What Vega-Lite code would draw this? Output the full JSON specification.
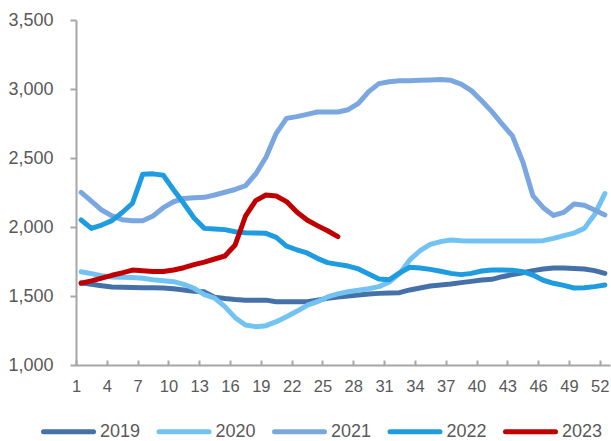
{
  "$schema": "https://vega.github.io/schema/vega-lite/v6.json",
  "autosize": "none",
  "width": 534,
  "height": 345,
  "padding": {"left": 76, "top": 20, "right": 1, "bottom": 76},
  "background": "white",
  "config": {
    "view": {"stroke": null},
    "font": "Liberation Sans",
    "axis": {
      "grid": false,
      "domainColor": "#A6A6A6",
      "domainWidth": 2,
      "tickColor": "#A6A6A6",
      "tickWidth": 2,
      "labelColor": "#595959",
      "labelFont": "Liberation Sans",
      "title": null
    }
  },
  "datasets": {
    "rows": [
      {"year":"2019","week":1,"value":1595},{"year":"2019","week":2,"value":1585},{"year":"2019","week":3,"value":1575},{"year":"2019","week":4,"value":1565},{"year":"2019","week":5,"value":1563},{"year":"2019","week":6,"value":1562},{"year":"2019","week":7,"value":1560},{"year":"2019","week":8,"value":1560},{"year":"2019","week":9,"value":1558},{"year":"2019","week":10,"value":1552},
      {"year":"2019","week":11,"value":1543},{"year":"2019","week":12,"value":1535},{"year":"2019","week":13,"value":1530},{"year":"2019","week":14,"value":1492},{"year":"2019","week":15,"value":1482},{"year":"2019","week":16,"value":1475},{"year":"2019","week":17,"value":1470},{"year":"2019","week":18,"value":1470},{"year":"2019","week":19,"value":1470},{"year":"2019","week":20,"value":1458},
      {"year":"2019","week":21,"value":1458},{"year":"2019","week":22,"value":1458},{"year":"2019","week":23,"value":1458},{"year":"2019","week":24,"value":1470},{"year":"2019","week":25,"value":1483},{"year":"2019","week":26,"value":1493},{"year":"2019","week":27,"value":1500},{"year":"2019","week":28,"value":1507},{"year":"2019","week":29,"value":1515},{"year":"2019","week":30,"value":1519},
      {"year":"2019","week":31,"value":1522},{"year":"2019","week":32,"value":1524},{"year":"2019","week":33,"value":1544},{"year":"2019","week":34,"value":1558},{"year":"2019","week":35,"value":1573},{"year":"2019","week":36,"value":1580},{"year":"2019","week":37,"value":1587},{"year":"2019","week":38,"value":1597},{"year":"2019","week":39,"value":1606},{"year":"2019","week":40,"value":1616},
      {"year":"2019","week":41,"value":1621},{"year":"2019","week":42,"value":1640},{"year":"2019","week":43,"value":1655},{"year":"2019","week":44,"value":1669},{"year":"2019","week":45,"value":1684},{"year":"2019","week":46,"value":1696},{"year":"2019","week":47,"value":1703},{"year":"2019","week":48,"value":1703},{"year":"2019","week":49,"value":1700},{"year":"2019","week":50,"value":1696},
      {"year":"2019","week":51,"value":1684},{"year":"2019","week":52,"value":1664},

      {"year":"2020","week":1,"value":1676},{"year":"2020","week":2,"value":1662},{"year":"2020","week":3,"value":1647},{"year":"2020","week":4,"value":1638},{"year":"2020","week":5,"value":1635},{"year":"2020","week":6,"value":1634},{"year":"2020","week":7,"value":1628},{"year":"2020","week":8,"value":1618},{"year":"2020","week":9,"value":1611},{"year":"2020","week":10,"value":1604},
      {"year":"2020","week":11,"value":1584},{"year":"2020","week":12,"value":1556},{"year":"2020","week":13,"value":1510},{"year":"2020","week":14,"value":1485},{"year":"2020","week":15,"value":1423},{"year":"2020","week":16,"value":1343},{"year":"2020","week":17,"value":1290},{"year":"2020","week":18,"value":1278},{"year":"2020","week":19,"value":1285},{"year":"2020","week":20,"value":1314},
      {"year":"2020","week":21,"value":1350},{"year":"2020","week":22,"value":1389},{"year":"2020","week":23,"value":1432},{"year":"2020","week":24,"value":1459},{"year":"2020","week":25,"value":1493},{"year":"2020","week":26,"value":1515},{"year":"2020","week":27,"value":1531},{"year":"2020","week":28,"value":1541},{"year":"2020","week":29,"value":1553},{"year":"2020","week":30,"value":1568},
      {"year":"2020","week":31,"value":1601},{"year":"2020","week":32,"value":1662},{"year":"2020","week":33,"value":1761},{"year":"2020","week":34,"value":1828},{"year":"2020","week":35,"value":1874},{"year":"2020","week":36,"value":1894},{"year":"2020","week":37,"value":1906},{"year":"2020","week":38,"value":1901},{"year":"2020","week":39,"value":1899},{"year":"2020","week":40,"value":1899},
      {"year":"2020","week":41,"value":1899},{"year":"2020","week":42,"value":1899},{"year":"2020","week":43,"value":1899},{"year":"2020","week":44,"value":1899},{"year":"2020","week":45,"value":1899},{"year":"2020","week":46,"value":1901},{"year":"2020","week":47,"value":1918},{"year":"2020","week":48,"value":1937},{"year":"2020","week":49,"value":1956},{"year":"2020","week":50,"value":1990},
      {"year":"2020","week":51,"value":2090},{"year":"2020","week":52,"value":2242},

      {"year":"2021","week":1,"value":2251},{"year":"2021","week":2,"value":2188},{"year":"2021","week":3,"value":2123},{"year":"2021","week":4,"value":2080},{"year":"2021","week":5,"value":2053},{"year":"2021","week":6,"value":2046},{"year":"2021","week":7,"value":2046},{"year":"2021","week":8,"value":2080},{"year":"2021","week":9,"value":2140},{"year":"2021","week":10,"value":2183},
      {"year":"2021","week":11,"value":2207},{"year":"2021","week":12,"value":2212},{"year":"2021","week":13,"value":2215},{"year":"2021","week":14,"value":2232},{"year":"2021","week":15,"value":2252},{"year":"2021","week":16,"value":2272},{"year":"2021","week":17,"value":2299},{"year":"2021","week":18,"value":2384},{"year":"2021","week":19,"value":2505},{"year":"2021","week":20,"value":2679},
      {"year":"2021","week":21,"value":2787},{"year":"2021","week":22,"value":2800},{"year":"2021","week":23,"value":2816},{"year":"2021","week":24,"value":2833},{"year":"2021","week":25,"value":2833},{"year":"2021","week":26,"value":2833},{"year":"2021","week":27,"value":2850},{"year":"2021","week":28,"value":2896},{"year":"2021","week":29,"value":2981},{"year":"2021","week":30,"value":3039},
      {"year":"2021","week":31,"value":3053},{"year":"2021","week":32,"value":3060},{"year":"2021","week":33,"value":3060},{"year":"2021","week":34,"value":3063},{"year":"2021","week":35,"value":3065},{"year":"2021","week":36,"value":3068},{"year":"2021","week":37,"value":3063},{"year":"2021","week":38,"value":3036},{"year":"2021","week":39,"value":2988},{"year":"2021","week":40,"value":2915},
      {"year":"2021","week":41,"value":2836},{"year":"2021","week":42,"value":2746},{"year":"2021","week":43,"value":2660},{"year":"2021","week":44,"value":2474},{"year":"2021","week":45,"value":2225},{"year":"2021","week":46,"value":2140},{"year":"2021","week":47,"value":2084},{"year":"2021","week":48,"value":2106},{"year":"2021","week":49,"value":2167},{"year":"2021","week":50,"value":2157},
      {"year":"2021","week":51,"value":2123},{"year":"2021","week":52,"value":2087},

      {"year":"2022","week":1,"value":2051},{"year":"2022","week":2,"value":1990},{"year":"2022","week":3,"value":2014},{"year":"2022","week":4,"value":2046},{"year":"2022","week":5,"value":2105},{"year":"2022","week":6,"value":2172},{"year":"2022","week":7,"value":2383},{"year":"2022","week":8,"value":2385},{"year":"2022","week":9,"value":2375},{"year":"2022","week":10,"value":2270},
      {"year":"2022","week":11,"value":2170},{"year":"2022","week":12,"value":2065},{"year":"2022","week":13,"value":1990},{"year":"2022","week":14,"value":1985},{"year":"2022","week":15,"value":1981},{"year":"2022","week":16,"value":1966},{"year":"2022","week":17,"value":1959},{"year":"2022","week":18,"value":1956},{"year":"2022","week":19,"value":1954},{"year":"2022","week":20,"value":1925},
      {"year":"2022","week":21,"value":1862},{"year":"2022","week":22,"value":1835},{"year":"2022","week":23,"value":1812},{"year":"2022","week":24,"value":1773},{"year":"2022","week":25,"value":1742},{"year":"2022","week":26,"value":1729},{"year":"2022","week":27,"value":1717},{"year":"2022","week":28,"value":1696},{"year":"2022","week":29,"value":1659},{"year":"2022","week":30,"value":1623},
      {"year":"2022","week":31,"value":1618},{"year":"2022","week":32,"value":1667},{"year":"2022","week":33,"value":1708},{"year":"2022","week":34,"value":1703},{"year":"2022","week":35,"value":1693},{"year":"2022","week":36,"value":1679},{"year":"2022","week":37,"value":1664},{"year":"2022","week":38,"value":1655},{"year":"2022","week":39,"value":1664},{"year":"2022","week":40,"value":1681},
      {"year":"2022","week":41,"value":1688},{"year":"2022","week":42,"value":1688},{"year":"2022","week":43,"value":1686},{"year":"2022","week":44,"value":1676},{"year":"2022","week":45,"value":1652},{"year":"2022","week":46,"value":1614},{"year":"2022","week":47,"value":1592},{"year":"2022","week":48,"value":1577},{"year":"2022","week":49,"value":1558},{"year":"2022","week":50,"value":1560},
      {"year":"2022","week":51,"value":1568},{"year":"2022","week":52,"value":1580},

      {"year":"2023","week":1,"value":1592},{"year":"2023","week":2,"value":1610},{"year":"2023","week":3,"value":1630},{"year":"2023","week":4,"value":1650},{"year":"2023","week":5,"value":1668},{"year":"2023","week":6,"value":1688},{"year":"2023","week":7,"value":1683},{"year":"2023","week":8,"value":1678},{"year":"2023","week":9,"value":1678},{"year":"2023","week":10,"value":1688},
      {"year":"2023","week":11,"value":1705},{"year":"2023","week":12,"value":1727},{"year":"2023","week":13,"value":1746},{"year":"2023","week":14,"value":1768},{"year":"2023","week":15,"value":1790},{"year":"2023","week":16,"value":1870},{"year":"2023","week":17,"value":2078},{"year":"2023","week":18,"value":2191},{"year":"2023","week":19,"value":2232},{"year":"2023","week":20,"value":2225},
      {"year":"2023","week":21,"value":2184},{"year":"2023","week":22,"value":2109},{"year":"2023","week":23,"value":2051},{"year":"2023","week":24,"value":2010},{"year":"2023","week":25,"value":1973},{"year":"2023","week":26,"value":1930}
    ]
  },
  "data": {"name": "rows"},
  "mark": {"type": "line", "strokeWidth": 5, "strokeCap": "round", "strokeJoin": "round"},
  "encoding": {
    "x": {
      "field": "week",
      "type": "quantitative",
      "scale": {"domain": [0.5, 52.5], "nice": false, "zero": false},
      "axis": {
        "values": [0.5, 3.5, 6.5, 9.5, 12.5, 15.5, 18.5, 21.5, 24.5, 27.5, 30.5, 33.5, 36.5, 39.5, 42.5, 45.5, 48.5, 51.5],
        "labelExpr": "format(datum.value + 0.5, 'd')",
        "tickSize": -5,
        "labelPadding": 18,
        "labelFontSize": 16.5,
        "labelFlush": false,
        "labelOverlap": false
      }
    },
    "y": {
      "field": "value",
      "type": "quantitative",
      "scale": {"domain": [1000, 3500], "nice": false, "zero": false},
      "axis": {
        "values": [1000, 1500, 2000, 2500, 3000, 3500],
        "labelExpr": "format(datum.value, ',d')",
        "tickSize": 6,
        "labelPadding": 17,
        "labelFontSize": 18
      }
    },
    "color": {
      "field": "year",
      "type": "nominal",
      "scale": {
        "domain": ["2019", "2020", "2021", "2022", "2023"],
        "range": ["#4571A8", "#72C2F2", "#7BA7E0", "#1F9BDF", "#C00000"]
      },
      "legend": {
        "title": null,
        "orient": "none",
        "legendX": -35,
        "legendY": 384,
        "direction": "horizontal",
        "columns": 5,
        "symbolType": "stroke",
        "symbolSize": 2500,
        "symbolStrokeWidth": 5,
        "labelFontSize": 18,
        "labelColor": "#595959",
        "labelFont": "Liberation Sans",
        "labelOffset": 4,
        "columnPadding": 7.5,
        "encode": {"symbols": {"update": {"strokeCap": {"value": "round"}}}}
      }
    }
  }
}
